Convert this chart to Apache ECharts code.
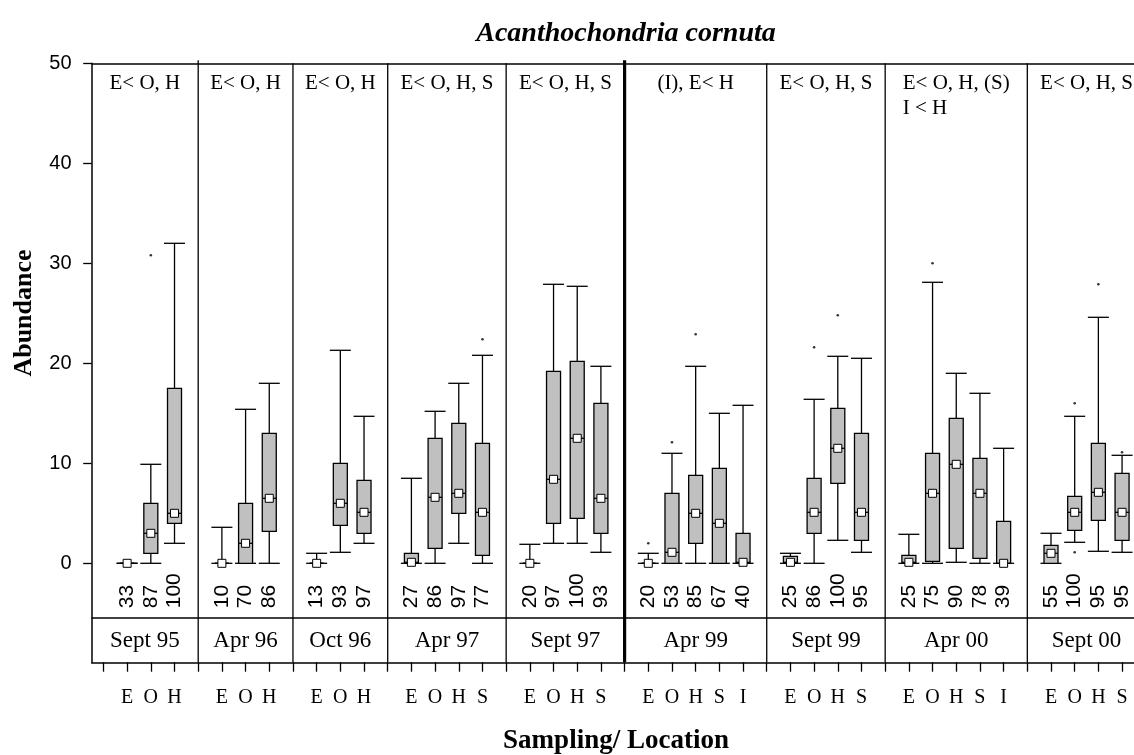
<!DOCTYPE html>
<html>
<head>
<meta charset="utf-8">
<script src="https://cdn.jsdelivr.net/npm/echarts@6/dist/echarts.min.js"></script>
<style>
html,body{margin:0;padding:0;background:#fff;}
#chart{width:1134px;height:755px;}
</style>
</head>
<body>
<div id="chart"></div>
<script>
// ---- data ----
const events = ['Sept 95','Apr 96','Oct 96','Apr 97','Sept 97','Apr 99','Sept 99','Apr 00','Sept 00'];
const notes = ['E< O, H','E< O, H','E< O, H','E< O, H, S','E< O, H, S','(I), E< H','E< O, H, S','E< O, H, (S)\nI < H','E< O, H, S'];
const sites = [['E','O','H'],['E','O','H'],['E','O','H'],['E','O','H','S'],['E','O','H','S'],['E','O','H','S','I'],['E','O','H','S'],['E','O','H','S','I'],['E','O','H','S']];
const counts = [[33,87,100],[10,70,86],[13,93,97],[27,86,97,77],[20,97,100,93],[20,53,85,67,40],[25,86,100,95],[25,75,90,78,39],[55,100,95,95]];
const whiskerLow = [[0,0,2],[0,0,0],[0,1.1,2],[0,0,2,0],[0,2,2,1.1],[0,0,0,0,0],[0,0,2.3,1.1],[0,0,0.1,0,0],[0,2.1,1.2,1.1]];
const quartile1 = [[0,1,4],[0,0,3.2],[0,3.8,3],[0,1.5,5,0.8],[0,4,4.5,3],[0,0,2,0,0],[0,3,8,2.3],[0,0.2,1.5,0.5,0],[0,3.3,4.3,2.3]];
const medians = [[0,3,5],[0,2,6.5],[0,6,5.1],[0.1,6.6,7,5.1],[0,8.4,12.5,6.5],[0,1.1,5,4,0.1],[0.1,5.1,11.5,5.1],[0.1,7,9.9,7,0],[1,5.1,7.1,5.1]];
const quartile3 = [[0,6,17.5],[0,6,13],[0,10,8.3],[1,12.5,14,12],[0,19.2,20.2,16],[0,7,8.8,9.5,3],[0.7,8.5,15.5,13],[0.8,11,14.5,10.5,4.2],[1.8,6.7,12,9]];
const whiskerHigh = [[0,9.9,32],[3.6,15.4,18],[1,21.3,14.7],[8.5,15.2,18,20.8],[1.9,27.9,27.7,19.7],[1,11,19.7,15,15.8],[1,16.4,20.7,20.5],[2.9,28.1,19,17,11.5],[3,14.7,24.6,10.8]];
// [event index, site, value]
const outliers = [[0,'O',30.8],[3,'S',22.4],[5,'E',2],[5,'O',12.1],[5,'H',22.9],[6,'O',21.6],[6,'H',24.8],[7,'O',30],[8,'O',16],[8,'O',1.1],[8,'H',27.9],[8,'S',11.1]];
const yTicks = [0,10,20,30,40,50];

// ---- build slots ----
const categories = [''];
const dividers = [];
const boxData = [];
const countData = [];
const slotOf = {};
events.forEach((ev, i) => {
  sites[i].forEach((s, j) => {
    const slot = categories.length;
    slotOf[i + s] = slot;
    categories.push(s);
    boxData.push([slot, whiskerLow[i][j], quartile1[i][j], medians[i][j], quartile3[i][j], whiskerHigh[i][j]]);
    countData.push([slot, counts[i][j]]);
  });
  dividers.push(categories.length);
  categories.push('');
});
const outlierData = outliers.map(o => [slotOf[o[0] + o[1]], o[2]]);
const panelData = events.map((ev, i) => [dividers[i], 0]);

const Y_MIN = -9.9, Y_MAX = 50, Y_BAND = -5.44;
const SERIF = 'Liberation Serif', SANS = 'Liberation Sans';

const chart = echarts.init(document.getElementById('chart'), null, {renderer: 'canvas'});

const option = {
  animation: false,
  backgroundColor: '#fff',
  title: {
    text: 'Acanthochondria cornuta',
    left: 621, top: 15, textAlign: 'center',
    textStyle: {fontFamily: SERIF, fontSize: 28, fontWeight: 'bold', fontStyle: 'italic', color: '#000'}
  },
  graphic: [
    {type: 'text', x: 24, y: 313, rotation: Math.PI / 2,
     style: {text: 'Abundance', align: 'center', verticalAlign: 'middle', fontFamily: SERIF, fontSize: 26, fontWeight: 'bold', fill: '#000'}},
    {type: 'text', x: 616, y: 741,
     style: {text: 'Sampling/ Location', align: 'center', verticalAlign: 'middle', fontFamily: SERIF, fontSize: 27, fontWeight: 'bold', fill: '#000'}}
  ],
  grid: {left: 91.6, top: 63.3, width: 1066, height: 599, containLabel: false, outerBoundsMode: 'none'},
  xAxis: {
    type: 'category', data: categories, boundaryGap: true,
    axisLine: {show: true, onZero: false, lineStyle: {color: '#000', width: 1.5}},
    axisTick: {show: true, alignWithLabel: true, interval: 0, length: 9.4, lineStyle: {color: '#000', width: 1.3}},
    axisLabel: {interval: 0, margin: 25, fontSize: 20, fontFamily: SERIF, color: '#000'},
    splitLine: {show: false}
  },
  yAxis: {
    type: 'value', min: Y_MIN, max: Y_MAX,
    axisLine: {show: true, lineStyle: {color: '#000', width: 1.5}},
    axisTick: {show: true, length: 8.4, customValues: yTicks, lineStyle: {color: '#000', width: 1.3}},
    axisLabel: {customValues: yTicks, margin: 20, fontSize: 20, fontFamily: SANS, color: '#000'},
    splitLine: {show: false}
  },
  series: [
    {
      type: 'custom', name: 'panels', data: panelData, silent: true, z: 1,
      renderItem: function (params, api) {
        const i = params.dataIndex;
        const bw = api.size([1, 0])[0];
        const x0 = api.coord([0, 0])[0];
        const xOf = s => x0 + s * bw;
        const L = i === 0 ? -0.5 : dividers[i - 1];
        const R = dividers[i];
        const cx = xOf((L + R) / 2);
        const yTop = api.coord([0, Y_MAX])[1];
        const yBot = api.coord([0, Y_MIN])[1];
        const yBand = api.coord([0, Y_BAND])[1];
        const xd = xOf(R);
        const lines = notes[i].split('\n');
        return {
          type: 'group',
          children: [
            {type: 'line', shape: {x1: xd, y1: yTop - (i === 0 || i === 4 ? 3 : 0), x2: xd, y2: yBot},
             style: {stroke: '#000', lineWidth: i === 4 ? 3.2 : 1.3}},
            {type: 'text', x: cx, y: (yBand + yBot) / 2 + 1,
             style: {text: events[i], align: 'center', verticalAlign: 'middle', fontFamily: SERIF, fontSize: 23, fill: '#000'}},
            {type: 'text', x: cx, y: yTop + 8,
             style: {
               text: lines.map(l => '{a|' + l + '}').join('\n'),
               align: 'center', verticalAlign: 'top',
               rich: {a: {align: 'left', fontFamily: SERIF, fontSize: 21, lineHeight: 25, fill: '#000'}}
             }}
          ]
        };
      },
      markLine: {
        silent: true, symbol: ['none', 'none'], label: {show: false},
        lineStyle: {color: '#000', width: 1.5, type: 'solid'},
        data: [{yAxis: Y_MAX}, {yAxis: Y_BAND}]
      }
    },
    {
      type: 'custom', name: 'boxes', data: boxData, z: 3,
      encode: {x: 0, y: [1, 2, 3, 4, 5]},
      renderItem: function (params, api) {
        const slot = api.value(0);
        const pLow = api.coord([slot, api.value(1)]);
        const pQ1 = api.coord([slot, api.value(2)]);
        const pMed = api.coord([slot, api.value(3)]);
        const pQ3 = api.coord([slot, api.value(4)]);
        const pHigh = api.coord([slot, api.value(5)]);
        const cx = pLow[0];
        const bw = 14, cw = 21, ms = 8;
        const st = {stroke: '#000', lineWidth: 1.3};
        return {
          type: 'group',
          children: [
            {type: 'line', shape: {x1: cx, y1: pHigh[1], x2: cx, y2: pQ3[1]}, style: st},
            {type: 'line', shape: {x1: cx, y1: pQ1[1], x2: cx, y2: pLow[1]}, style: st},
            {type: 'line', shape: {x1: cx - cw / 2, y1: pHigh[1], x2: cx + cw / 2, y2: pHigh[1]}, style: st},
            {type: 'line', shape: {x1: cx - cw / 2, y1: pLow[1], x2: cx + cw / 2, y2: pLow[1]}, style: st},
            {type: 'rect', shape: {x: cx - bw / 2, y: pQ3[1], width: bw, height: pQ1[1] - pQ3[1]},
             style: {fill: '#c0c0c0', stroke: '#000', lineWidth: 1.3}},
            {type: 'line', shape: {x1: cx - bw / 2, y1: pMed[1], x2: cx + bw / 2, y2: pMed[1]}, style: st},
            {type: 'rect', shape: {x: cx - ms / 2, y: pMed[1] - ms / 2, width: ms, height: ms},
             style: {fill: '#fff', stroke: '#000', lineWidth: 1}}
          ]
        };
      }
    },
    {
      type: 'scatter', name: 'outliers', data: outlierData, z: 4,
      symbol: 'circle', symbolSize: 2.6, itemStyle: {color: '#000'}, silent: true
    },
    {
      type: 'custom', name: 'counts', data: countData, z: 3, silent: true,
      renderItem: function (params, api) {
        const p = api.coord([api.value(0), 0]);
        return {
          type: 'text', x: p[0], y: p[1] + 45, rotation: Math.PI / 2,
          style: {text: String(api.value(1)), align: 'left', verticalAlign: 'middle', fontFamily: SANS, fontSize: 21, fill: '#000'}
        };
      }
    }
  ]
};
chart.setOption(option);
</script>
</body>
</html>
